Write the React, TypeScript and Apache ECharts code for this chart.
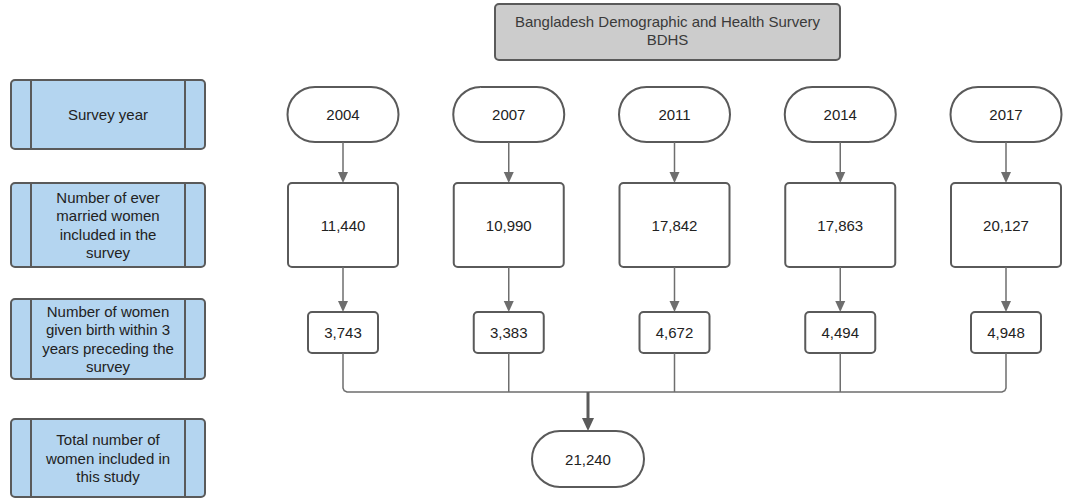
import React, { useEffect, useRef } from "react";
import * as echarts from "echarts";

const years = ["2004", "2007", "2011", "2014", "2017"];
const everMarriedWomen = [11440, 10990, 17842, 17863, 20127];
const birthWomen = [3743, 3383, 4672, 4494, 4948];
const totalWomen = 21240;
const titleLines = ["Bangladesh Demographic and Health Survery", "BDHS"];
const rowLabels = [
  "Survey year",
  "Number of ever\nmarried women\nincluded in the\nsurvey",
  "Number of women\ngiven birth within 3\nyears preceding the\nsurvey",
  "Total number of\nwomen included in\nthis study",
];

const fmt = (v: number) => v.toLocaleString("en-US");
const FONT = "'Liberation Sans', Arial, sans-serif";
const BORDER = "#5a5a5a";
const LINE = "#6e6e6e";

export default function App() {
  const ref = useRef<HTMLDivElement>(null);
  useEffect(() => {
    if (!ref.current) return;
    const chart = echarts.init(ref.current, undefined, { renderer: "svg" });
    const els: any[] = [];
    const txt = (x: number, y: number, t: string, size = 15, fill = "#222", lh = 18.5) =>
      els.push({
        type: "text",
        x,
        y,
        style: { text: t, fontSize: size, fontFamily: FONT, fill, align: "center", verticalAlign: "middle", lineHeight: lh },
        z: 10,
      });
    const rect = (x: number, y: number, w: number, h: number, r: number, fill: string, lw = 2) =>
      els.push({ type: "rect", shape: { x, y, width: w, height: h, r }, style: { fill, stroke: BORDER, lineWidth: lw } });
    const arrow = (x: number, y1: number, y2: number, lw = 1.5, color = LINE, hw = 5, hh = 11) => {
      els.push({ type: "line", shape: { x1: x, y1, x2: x, y2: y2 - hh + 1 }, style: { stroke: color, lineWidth: lw } });
      els.push({ type: "polygon", shape: { points: [[x - hw, y2 - hh], [x + hw, y2 - hh], [x, y2]] }, style: { fill: color } });
    };

    // title
    rect(495, 4, 345, 56, 4, "#cccccc");
    txt(667.5, 21, titleLines[0], 15, "#3a3a3a");
    txt(667.5, 39, titleLines[1], 15, "#3a3a3a");

    // left row labels
    const rowY = [
      [80, 149],
      [183, 267],
      [299, 379],
      [419, 497],
    ];
    rowLabels.forEach((lab, i) => {
      const [y1, y2] = rowY[i];
      rect(11, y1, 194, y2 - y1, 4, "#b4d5f0");
      els.push({ type: "line", shape: { x1: 31, y1, x2: 31, y2 }, style: { stroke: BORDER, lineWidth: 2 } });
      els.push({ type: "line", shape: { x1: 185, y1, x2: 185, y2 }, style: { stroke: BORDER, lineWidth: 2 } });
      txt(108, (y1 + y2) / 2, lab, 15, "#222", 18.5);
    });

    const colX = years.map((_, i) => 343 + i * 165.75);
    const busY = 392;
    years.forEach((yr, i) => {
      const cx = colX[i];
      // year stadium
      rect(cx - 55.5, 87, 111, 55, 27.5, "#ffffff");
      txt(cx, 114.5, yr);
      arrow(cx, 142, 183);
      // married women box
      rect(cx - 55, 183, 110, 84, 4, "#ffffff");
      txt(cx, 225, fmt(everMarriedWomen[i]));
      arrow(cx, 267, 312);
      // birth box
      rect(cx - 35, 312, 70, 41, 4, "#ffffff");
      txt(cx, 332.5, fmt(birthWomen[i]));
    });
    // connector bus with rounded ends
    const r = 4;
    const last = colX.length - 1;
    els.push({
      type: "polyline",
      shape: {
        points: [
          [colX[0], 353],
          [colX[0], busY - r],
          [colX[0] + 1.2, busY - 1.2],
          [colX[0] + r, busY],
          [colX[last] - r, busY],
          [colX[last] - 1.2, busY - 1.2],
          [colX[last], busY - r],
          [colX[last], 353],
        ],
      },
      style: { stroke: LINE, lineWidth: 1.5, fill: null },
    });
    colX.slice(1, last).forEach((cx) => {
      els.push({ type: "line", shape: { x1: cx, y1: 353, x2: cx, y2: busY }, style: { stroke: LINE, lineWidth: 1.5 } });
    });
    arrow(588, busY, 431, 3, "#5a5a5a", 6, 13);
    rect(532, 431, 112, 56, 28, "#ffffff");
    txt(588, 459, fmt(totalWomen));

    chart.setOption({ animation: false, graphic: { elements: els } });
    return () => chart.dispose();
  }, []);
  return <div ref={ref} style={{ position: "fixed", left: 0, top: 0, width: 1069, height: 499, background: "#fff" }} />;
}
